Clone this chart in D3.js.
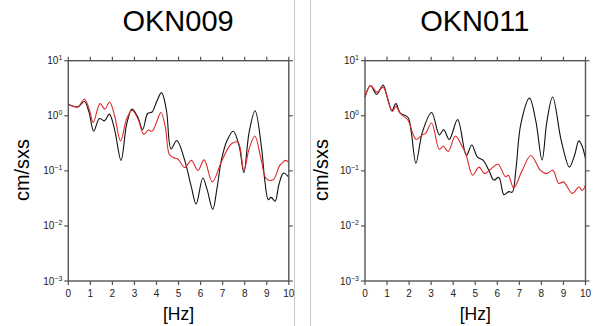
<!DOCTYPE html>
<html>
<head>
<meta charset="utf-8">
<script src="https://cdn.jsdelivr.net/npm/d3@7"></script>
<style>
body { margin: 0; background: #fff; }
svg { display: block; font-family: "Liberation Sans", Arial, Helvetica, sans-serif; }
.frame { fill: none; stroke: #555; stroke-width: 1.4; }
.tick { stroke: #555; stroke-width: 1.2; }
.divider { stroke: #c8c8c8; stroke-width: 1; }
</style>
</head>
<body>
<div id="viz-container"></div>
<script>
// station names
var STATIONS = ['OKN009', 'OKN011'];

// OKN009
var freq009Black = [0, 0.43, 0.73, 0.95, 1.15, 1.41, 1.64, 1.86, 2.1, 2.39, 2.65, 2.89, 3.15, 3.37, 3.6, 3.8, 4.0, 4.23, 4.45, 4.66, 4.92, 5.28, 5.58, 5.8, 6.1, 6.3, 6.55, 6.75, 6.94, 7.2, 7.48, 7.75, 7.96, 8.2, 8.47, 8.76, 8.91, 9.07, 9.2, 9.38, 9.55, 9.76, 10];
var amp009Black = [1.62, 1.45, 1.82, 1.12, 0.525, 0.89, 0.81, 1.07, 0.56, 0.155, 0.71, 1.32, 0.95, 0.56, 1.10, 1.17, 1.78, 2.63, 1.26, 0.25, 0.355, 0.155, 0.051, 0.025, 0.074, 0.045, 0.020, 0.050, 0.155, 0.355, 0.525, 0.28, 0.093, 0.50, 1.23, 0.27, 0.068, 0.030, 0.033, 0.028, 0.056, 0.091, 0.076];
var freq009Red = [0, 0.43, 0.73, 0.95, 1.13, 1.44, 1.66, 1.87, 2.1, 2.37, 2.65, 2.89, 3.15, 3.43, 3.63, 3.8, 4.0, 4.2, 4.4, 4.58, 4.76, 4.98, 5.28, 5.58, 5.88, 6.16, 6.53, 6.94, 7.4, 7.7, 7.96, 8.2, 8.46, 8.75, 8.98, 9.29, 9.59, 9.72, 9.84, 10];
var amp009Red = [1.62, 1.45, 2.0, 1.32, 0.76, 1.66, 1.32, 1.78, 1.0, 0.35, 0.89, 1.26, 0.89, 0.46, 0.55, 0.525, 0.76, 1.15, 0.63, 0.20, 0.174, 0.162, 0.115, 0.155, 0.102, 0.158, 0.063, 0.145, 0.31, 0.33, 0.102, 0.25, 0.43, 0.158, 0.072, 0.069, 0.126, 0.141, 0.155, 0.145];

// OKN011
var freq011Black = [0, 0.25, 0.53, 0.82, 1.0, 1.22, 1.4, 1.6, 1.95, 2.1, 2.31, 2.6, 3.02, 3.37, 3.57, 3.82, 4.2, 4.6, 4.84, 5.1, 5.36, 5.62, 5.84, 6.07, 6.3, 6.52, 6.68, 6.84, 7.07, 7.46, 7.75, 8.03, 8.25, 8.51, 8.9, 9.27, 9.5, 9.7, 9.85, 10];
var amp011Black = [2.19, 3.55, 2.45, 3.63, 2.24, 1.23, 1.66, 1.12, 0.93, 0.50, 0.138, 0.50, 1.15, 0.45, 0.56, 0.37, 0.85, 0.19, 0.295, 0.178, 0.155, 0.102, 0.068, 0.076, 0.037, 0.042, 0.041, 0.102, 0.72, 2.09, 0.79, 0.158, 0.79, 2.19, 0.355, 0.117, 0.19, 0.35, 0.28, 0.166];
var freq011Red = [0, 0.25, 0.55, 0.82, 1.0, 1.24, 1.4, 1.6, 1.95, 2.15, 2.33, 2.6, 2.75, 3.02, 3.37, 3.55, 3.77, 4.1, 4.4, 4.58, 4.88, 5.17, 5.42, 5.7, 6.03, 6.37, 6.5, 6.74, 7.13, 7.52, 7.96, 8.23, 8.52, 8.79, 9.0, 9.4, 9.7, 9.85, 10];
var amp011Red = [2.19, 3.55, 2.69, 3.31, 2.24, 1.20, 1.48, 1.10, 0.83, 0.50, 0.37, 0.45, 0.48, 0.74, 0.245, 0.28, 0.224, 0.43, 0.28, 0.20, 0.083, 0.117, 0.089, 0.107, 0.132, 0.078, 0.083, 0.049, 0.102, 0.19, 0.102, 0.089, 0.102, 0.059, 0.063, 0.039, 0.051, 0.044, 0.055];

// axis ticks
var xTicks = [0, 1, 2, 3, 4, 5, 6, 7, 8, 9, 10];
var yTicks = [10, 1, 0.1, 0.01, 0.001];
var yExponents = ['1', '0', '\u22121', '\u22122', '\u22123'];

var svg = d3.select('#viz-container').append('svg')
	.attr('width', 595)
	.attr('height', 326);

// the two thin separators between the panels
svg.append('line').attr('class', 'divider').attr('x1', 294.5).attr('x2', 294.5).attr('y1', 0).attr('y2', 326);
svg.append('line').attr('class', 'divider').attr('x1', 310.5).attr('x2', 310.5).attr('y1', 0).attr('y2', 326);

var panels = [
	{name: STATIONS[0], left: 68.3, ylab: 28.5,
	 black: d3.zip(freq009Black, amp009Black), red: d3.zip(freq009Red, amp009Red)},
	{name: STATIONS[1], left: 365, ylab: 328,
	 black: d3.zip(freq011Black, amp011Black), red: d3.zip(freq011Red, amp011Red)}
];

var plotTop = 60.7, plotBottom = 281, plotW = 220.5, tickLen = 4;

panels.forEach(function(p) {
	var x = d3.scaleLinear().domain([0, 10]).range([p.left, p.left + plotW]);
	var y = d3.scaleLog().domain([0.001, 10]).range([plotBottom, plotTop]);
	var g = svg.append('g');

	var line = d3.line()
		.x(function(d) { return x(d[0]); })
		.y(function(d) { return y(d[1]); })
		.curve(d3.curveCatmullRom.alpha(0.5));

	g.append('path').attr('d', line(p.black))
		.attr('fill', 'none').attr('stroke', '#111').attr('stroke-width', 1.1);
	g.append('path').attr('d', line(p.red))
		.attr('fill', 'none').attr('stroke', '#dd2b2b').attr('stroke-width', 1.1);

	g.append('rect').attr('class', 'frame')
		.attr('x', x(0)).attr('y', plotTop)
		.attr('width', x(10) - x(0)).attr('height', plotBottom - plotTop);

	// x ticks, top and bottom
	g.selectAll('.xt-top').data(xTicks).enter().append('line')
		.attr('class', 'tick')
		.attr('x1', function(d) { return x(d); }).attr('x2', function(d) { return x(d); })
		.attr('y1', plotTop).attr('y2', plotTop - tickLen);
	g.selectAll('.xt-bot').data(xTicks).enter().append('line')
		.attr('class', 'tick')
		.attr('x1', function(d) { return x(d); }).attr('x2', function(d) { return x(d); })
		.attr('y1', plotBottom).attr('y2', plotBottom + tickLen);
	g.selectAll('.xl').data(xTicks).enter().append('text')
		.attr('x', function(d) { return x(d); })
		.attr('y', plotBottom + 16)
		.attr('text-anchor', 'middle')
		.attr('font-size', 10)
		.attr('fill', '#222')
		.text(function(d) { return d; });

	// y ticks, left and right
	g.selectAll('.yt-left').data(yTicks).enter().append('line')
		.attr('class', 'tick')
		.attr('x1', x(0)).attr('x2', x(0) - tickLen)
		.attr('y1', function(d) { return y(d); }).attr('y2', function(d) { return y(d); });
	g.selectAll('.yt-right').data(yTicks).enter().append('line')
		.attr('class', 'tick')
		.attr('x1', x(10)).attr('x2', x(10) + tickLen)
		.attr('y1', function(d) { return y(d); }).attr('y2', function(d) { return y(d); });
	var yl = g.selectAll('.yl').data(yTicks).enter().append('text')
		.attr('x', x(0) - 6)
		.attr('y', function(d) { return y(d) + 3.5; })
		.attr('text-anchor', 'end')
		.attr('font-size', 10)
		.attr('fill', '#222');
	yl.append('tspan').text('10');
	yl.append('tspan')
		.attr('dy', -4)
		.attr('font-size', 7)
		.text(function(d, i) { return yExponents[i]; });

	// titles and axis labels
	svg.append('text')
		.attr('x', (x(0) + x(10)) / 2 - 0.5)
		.attr('y', 31)
		.attr('text-anchor', 'middle')
		.attr('font-size', 29)
		.text(p.name);
	svg.append('text')
		.attr('x', (x(0) + x(10)) / 2)
		.attr('y', 320)
		.attr('text-anchor', 'middle')
		.attr('font-size', 17.5)
		.text('[Hz]');
	svg.append('text')
		.attr('transform', 'translate(' + p.ylab + ',170) rotate(-90)')
		.attr('text-anchor', 'middle')
		.attr('font-size', 20)
		.text('cm/sxs');
});
</script>
</body>
</html>
